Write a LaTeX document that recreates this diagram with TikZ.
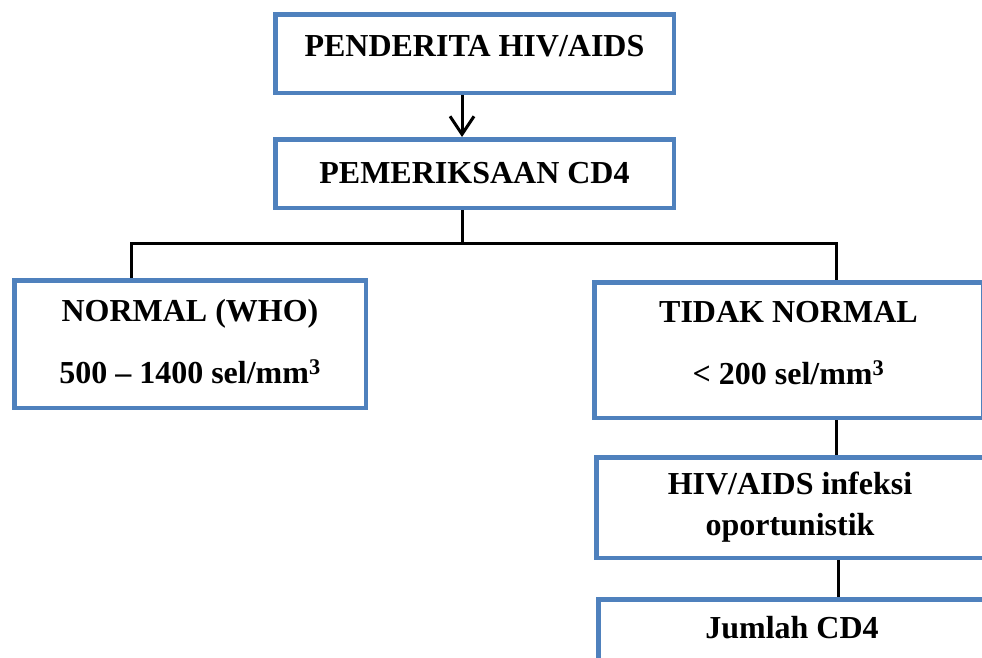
\documentclass[tikz,border=0pt]{standalone}
\usepackage{fontspec}
\setmainfont{Liberation Serif}
\usetikzlibrary{arrows.meta,positioning}
\definecolor{boxblue}{HTML}{4F81BD}

\begin{document}
\begin{tikzpicture}[
  x=1pt, y=-1pt,
  box/.style={draw=boxblue, line width=4.5pt, inner sep=0pt, align=center,
              font=\bfseries\fontsize{32}{38}\selectfont},
  conn/.style={line width=3pt},
  arr/.style={-{Straight Barb[length=18pt, width=24pt, line width=3pt]}, line width=3pt}
]
\useasboundingbox (0,0) rectangle (982,657);

\node[box, minimum width=398.5pt, text height=41.75pt, text depth=36.75pt]
  (pend) at (474.5,53.5) {PENDERITA HIV/AIDS};
\node[box, minimum width=398.5pt, minimum height=68.5pt]
  (periksa) at (474.5,173.5) {PEMERIKSAAN CD4};
\node[box, minimum width=351.5pt, minimum height=127.5pt]
  (normal) at (190,344) {NORMAL (WHO)\\[24pt]500 -- 1400 sel/mm\textsuperscript{3}\\[-32pt]\mbox{}};
\node[box, minimum width=388.5pt, minimum height=135.5pt]
  (tidak) at (788.5,350) {TIDAK NORMAL\\[24pt]< 200 sel/mm\textsuperscript{3}\\[-24pt]\mbox{}};
\node[box, minimum width=387.5pt, minimum height=100.5pt]
  (hiv) at (790,507.5) {HIV/AIDS infeksi\\[3pt]oportunistik};
\node[box, minimum width=387.5pt, text height=38.75pt, text depth=40pt, anchor=north]
  (jumlah) at (792,597) {Jumlah CD4};

% junction points
\coordinate (split) at (462,243);
\coordinate (lj) at (131,243);
\coordinate (rj) at (836,243);

\draw[arr] (pend.south -| split) -- (periksa.north -| split);
\draw[conn] (periksa.south -| split) -- (split);
\draw[conn] (normal.north -| lj) -- (lj) -- (rj) -- (tidak.north -| rj);
\draw[conn] (tidak.south -| rj) -- (hiv.north -| rj);
\draw[conn] ([xshift=2pt]hiv.south -| rj) -- ([xshift=2pt]jumlah.north -| rj);
\end{tikzpicture}
\end{document}
